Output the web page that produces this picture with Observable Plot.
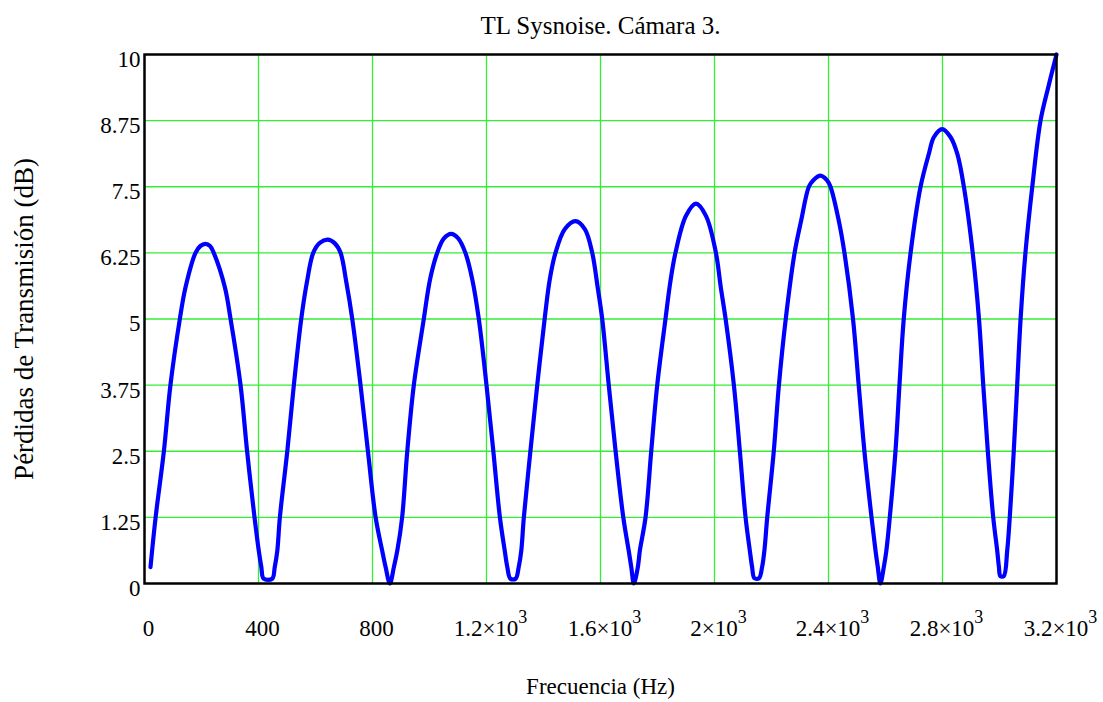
<!DOCTYPE html>
<html>
<head>
<meta charset="utf-8">
<script src="https://cdn.jsdelivr.net/npm/d3@7"></script>
<script src="https://cdn.jsdelivr.net/npm/@observablehq/plot@0.6"></script>
<style>
  html, body { margin: 0; padding: 0; background: white; }
</style>
</head>
<body>
<div id="chart"></div>
<script>
const titleText = "TL Sysnoise. Cámara 3.";
const xLabelText = "Frecuencia (Hz)";
const yLabelText = "Pérdidas de Transmisión (dB)";

const xTicks = [0, 400, 800, 1200, 1600, 2000, 2400, 2800, 3200];
const xTickLabels = ["0", "400", "800", "1.2×10^3", "1.6×10^3", "2×10^3", "2.4×10^3", "2.8×10^3", "3.2×10^3"];
const yTicks = [0, 1.25, 2.5, 3.75, 5, 6.25, 7.5, 8.75, 10];
const yTickLabels = ["0", "1.25", "2.5", "3.75", "5", "6.25", "7.5", "8.75", "10"];

const freq = [
  21, 39, 68, 91, 124, 144, 179, 196, 214, 230, 243, 282, 302, 337, 360, 386, 401, 410, 418, 448, 457, 466, 475,
  501, 524, 550, 570, 592, 615, 643, 668, 688, 708, 729, 758, 784, 811, 834, 846, 861, 875, 887, 904,
  922, 945, 980, 1002, 1027, 1050, 1076, 1100, 1126, 1150, 1173, 1200, 1224, 1247, 1264, 1273, 1284, 1302, 1313, 1322, 1331,
  1354, 1378, 1404, 1422, 1442, 1475, 1512, 1545, 1571, 1590, 1606, 1629, 1653, 1680, 1699, 1708, 1717, 1731, 1738, 1758,
  1778, 1799, 1828, 1845, 1863, 1900, 1935, 1970, 2005, 2022, 2039, 2068, 2089, 2109, 2124, 2132, 2140, 2156, 2167, 2175, 2185,
  2208, 2226, 2250, 2281, 2304, 2331, 2346, 2372, 2395, 2407, 2436, 2456, 2486, 2506, 2526, 2551, 2565, 2573, 2582, 2594, 2603, 2615,
  2635, 2649, 2664, 2688, 2723, 2752, 2770, 2799, 2828, 2852, 2875, 2906, 2928, 2943, 2959, 2978, 2992, 2998, 3003, 3015, 3027, 3036,
  3050, 3062, 3074, 3091, 3115, 3144, 3172, 3200
];
const tl = [
  0.31, 1.25, 2.5, 3.75, 5, 5.6, 6.25, 6.38, 6.42, 6.38, 6.25, 5.6, 5, 3.75, 2.5, 1.25, 0.62, 0.31, 0.09, 0.09, 0.31, 0.62, 1.25,
  2.5, 3.75, 5, 5.7, 6.25, 6.44, 6.5, 6.43, 6.25, 5.7, 5, 3.75, 2.5, 1.25, 0.62, 0.31, 0, 0.31, 0.62, 1.25,
  2.5, 3.75, 5, 5.75, 6.25, 6.52, 6.61, 6.53, 6.25, 5.75, 5, 3.75, 2.5, 1.25, 0.62, 0.31, 0.09, 0.09, 0.31, 0.62, 1.25,
  2.5, 3.75, 5, 5.75, 6.25, 6.7, 6.85, 6.7, 6.25, 5.6, 5, 3.75, 2.5, 1.25, 0.62, 0.31, 0, 0.31, 0.62, 1.25,
  2.5, 3.75, 5, 5.7, 6.25, 6.95, 7.18, 6.95, 6.25, 5.6, 5, 3.75, 2.5, 1.25, 0.62, 0.31, 0.1, 0.1, 0.31, 0.62, 1.25,
  2.5, 3.75, 5, 6.25, 6.86, 7.5, 7.62, 7.71, 7.62, 7.5, 6.86, 6.25, 5, 3.75, 2.5, 1.25, 0.62, 0.31, 0, 0.31, 0.62, 1.25,
  2.5, 3.75, 5, 6.25, 7.5, 8.12, 8.44, 8.59, 8.44, 8.12, 7.5, 6.25, 5, 3.75, 2.5, 1.25, 0.62, 0.31, 0.14, 0.14, 0.62, 1.25,
  2.5, 3.75, 5, 6.25, 7.5, 8.75, 9.4, 10
];

const data = freq.map((f, i) => ({ f, tl: tl[i] }));
const gridColor = "#33ee33";

const chart = Plot.plot({
  width: 1103,
  height: 702,
  marginLeft: 144,
  marginRight: 47,
  marginTop: 54,
  marginBottom: 119,
  style: {
    fontFamily: "'Liberation Serif', 'Times New Roman', serif",
    fontSize: "23px",
    color: "black",
    background: "white",
    overflow: "visible"
  },
  x: { domain: [0, 3200] },
  y: { domain: [0, 10] },
  marks: [
    Plot.ruleX(xTicks.slice(1, -1), { stroke: gridColor, strokeWidth: 1.3 }),
    Plot.ruleY(yTicks.slice(1, -1), { stroke: gridColor, strokeWidth: 1.3 }),
    Plot.line(data, { x: "f", y: "tl", stroke: "#0000ff", strokeWidth: 4.2, strokeLinejoin: "round", curve: "catmull-rom" }),
    Plot.frame({ stroke: "black", strokeWidth: 2.5 }),
    Plot.axisX({
      ticks: xTicks,
      tickSize: 0,
      tickPadding: 36,
      dx: 4,
      tickFormat: d => xTickLabels[xTicks.indexOf(d)],
      label: null
    }),
    Plot.axisY({
      ticks: yTicks,
      tickSize: 0,
      tickPadding: 4,
      dy: 5,
      tickFormat: d => yTickLabels[yTicks.indexOf(d)],
      label: null
    }),
    Plot.text([titleText], { frameAnchor: "top", lineAnchor: "middle", textAnchor: "middle", dy: -29, fontSize: 25 }),
    Plot.text([xLabelText], { frameAnchor: "bottom", lineAnchor: "middle", textAnchor: "middle", dy: 103, fontSize: 23 }),
    Plot.text([yLabelText], { frameAnchor: "left", lineAnchor: "middle", textAnchor: "middle", dx: -120, rotate: -90, fontSize: 27 })
  ]
});

// render "^3" as a real superscript
d3.select(chart).selectAll("text").each(function () {
  const t = this.textContent;
  if (t.includes("^")) {
    const [base, exp] = t.split("^");
    const sel = d3.select(this);
    sel.text(base);
    sel.append("tspan").attr("dy", "-13").attr("font-size", "18px").text(exp);
  }
});

document.getElementById("chart").appendChild(chart);
</script>
</body>
</html>
